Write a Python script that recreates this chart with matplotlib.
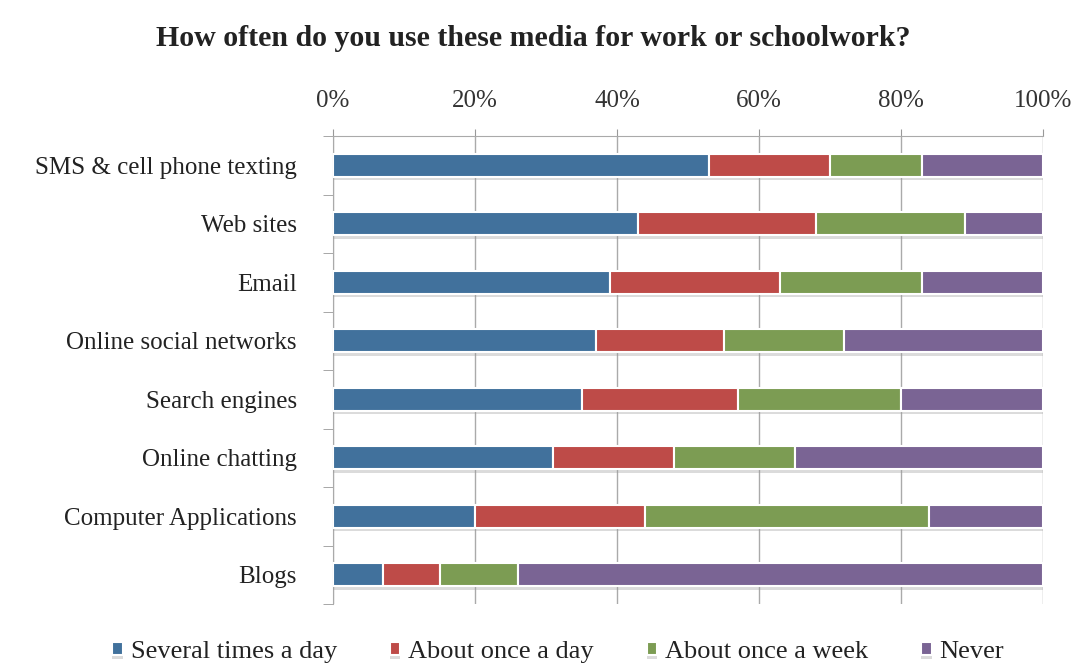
import matplotlib
matplotlib.use("Agg")
import matplotlib.pyplot as plt
import matplotlib.patheffects as pe
import numpy as np

categories = ["SMS & cell phone texting", "Web sites", "Email", "Online social networks",
              "Search engines", "Online chatting", "Computer Applications", "Blogs"]
series_names = ["Several times a day", "About once a day", "About once a week", "Never"]
several_times_a_day = [53, 43, 39, 37, 35, 31, 20, 7]
about_once_a_day = [17, 25, 24, 18, 22, 17, 24, 8]
about_once_a_week = [13, 21, 20, 17, 23, 17, 40, 11]
never = [17, 11, 17, 28, 20, 35, 16, 74]
tick_labels = ["0%", "20%", "40%", "60%", "80%", "100%"]

colors = ["#41719C", "#BE4B48", "#7C9C53", "#7A6494"]
font = ["Liberation Serif", "DejaVu Serif"]
plt.rcParams["font.family"] = font

fig = plt.figure(figsize=(10.84, 6.69), dpi=100)
ax = fig.add_axes([333 / 1084, 1 - 604 / 669, 710 / 1084, 468 / 669])

y = np.arange(len(categories))
left = np.zeros(len(categories))
handles = []
for name, vals, col in zip(series_names, [several_times_a_day, about_once_a_day, about_once_a_week, never], colors):
    bars = ax.barh(y, vals, left=left, height=0.4, color=col, edgecolor="white", linewidth=1.5,
                   zorder=3, label=name)
    for b in bars:
        b.set_path_effects([pe.SimplePatchShadow(offset=(0, -2.5), shadow_rgbFace="#9a9a9a", alpha=0.35),
                            pe.Normal()])
    handles.append(bars)
    left += np.array(vals)

ax.set_xlim(0, 100)
ax.set_ylim(len(categories) - 0.5, -0.5)
ax.xaxis.tick_top()
ax.set_xticks(np.arange(0, 101, 20))
ax.set_xticklabels(tick_labels, fontsize=18, color="#333333")
ax.tick_params(axis="x", length=5, color="#999999", pad=12)
ax.set_yticks(y)
ax.set_yticklabels(categories, fontsize=18, color="#222222")
ax.tick_params(axis="y", length=0, pad=26)
ax.set_yticks(np.arange(-0.5, len(categories) + 0.5, 1), minor=True)
ax.tick_params(axis="y", which="minor", length=7, color="#999999")
ax.grid(axis="x", color="#aaaaaa", linewidth=1.0, zorder=0)
for s in ["right", "bottom"]:
    ax.spines[s].set_visible(False)
ax.spines["top"].set_color("#aaaaaa")
ax.spines["left"].set_color("#aaaaaa")

fig.text(0.492, 1 - 39 / 669, "How often do you use these media for work or schoolwork?",
         ha="center", va="center", fontsize=21.5, fontweight="bold", color="#222222")

leg = fig.legend(handles=handles, labels=series_names, loc="center", bbox_to_anchor=(0.515, 1 - 652 / 669),
                 ncol=4, frameon=False, fontsize=19, handlelength=0.4, handleheight=0.4,
                 handletextpad=0.3, columnspacing=2.0)
for t in leg.get_texts():
    t.set_color("#222222")

fig.savefig("out.png", dpi=100, facecolor="white")
